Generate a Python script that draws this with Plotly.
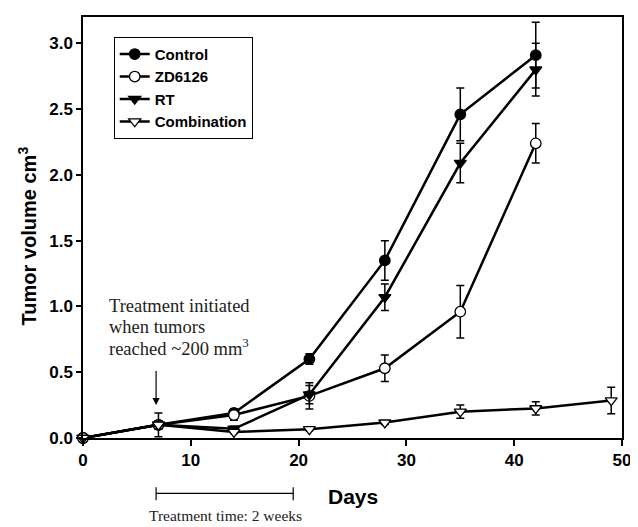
import plotly.graph_objects as go

days = [0, 7, 14, 21, 28, 35, 42]
days_comb = [0, 7, 14, 21, 28, 35, 42, 49]

control = [0.0, 0.10, 0.19, 0.60, 1.35, 2.46, 2.91]
control_err = [0.0, 0.03, 0.03, 0.04, 0.15, 0.20, 0.25]

zd6126 = [0.0, 0.10, 0.175, 0.32, 0.53, 0.96, 2.24]
zd6126_err = [0.0, 0.03, 0.04, 0.10, 0.10, 0.20, 0.15]

rt = [0.0, 0.10, 0.07, 0.33, 1.07, 2.09, 2.80]
rt_err = [0.0, 0.03, 0.02, 0.07, 0.10, 0.15, 0.20]

combination = [0.0, 0.10, 0.045, 0.066, 0.117, 0.20, 0.225, 0.285]
combination_err = [0.0, 0.09, 0.01, 0.01, 0.015, 0.05, 0.05, 0.10]

x_ticks = [0, 10, 20, 30, 40, 50]
y_ticks = [0.0, 0.5, 1.0, 1.5, 2.0, 2.5, 3.0]

note_lines = ["Treatment initiated", "when tumors", "reached ~200 mm<sup>3</sup>"]

fig = go.Figure()

def add(name, x, y, err, symbol, fill):
    fig.add_trace(go.Scatter(
        x=x, y=y, name=name, mode="lines+markers",
        line=dict(color="black", width=2.5),
        marker=dict(symbol=symbol, size=10.5, color=fill,
                    line=dict(color="black", width=1.3)),
        error_y=dict(type="data", array=err, color="black",
                     thickness=1.5, width=4),
        cliponaxis=False,
    ))

add("Control", days, control, control_err, "circle", "black")
add("ZD6126", days, zd6126, zd6126_err, "circle", "white")
add("RT", days, rt, rt_err, "triangle-down", "black")
add("Combination", days_comb, combination, combination_err, "triangle-down", "white")

axis_font = dict(family="Liberation Sans, Arial", size=17, color="black", weight="bold")

fig.update_xaxes(
    range=[0, 50], tickvals=x_ticks, ticktext=[str(v) for v in x_ticks],
    showgrid=False, zeroline=False, showline=True, linecolor="black",
    linewidth=1.5, mirror=True, ticks="outside", ticklen=6, tickwidth=1.5,
    tickcolor="black", tickfont=axis_font,
)
fig.update_yaxes(
    range=[0, 3.2], tickvals=y_ticks, ticktext=[f"{v:.1f}" for v in y_ticks],
    showgrid=False, zeroline=False, showline=True, linecolor="black",
    linewidth=1.5, mirror=True, ticks="outside", ticklen=5, tickwidth=1.5,
    tickcolor="black", tickfont=axis_font,
)

serif = "Liberation Serif, Times New Roman"

fig.add_annotation(
    xref="paper", yref="paper", x=-0.103, y=0.48, xanchor="center", yanchor="middle",
    text="<b>Tumor volume cm<sup>3</sup></b>", textangle=-90, showarrow=False,
    font=dict(family="Liberation Sans, Arial", size=20, color="black"),
)
fig.add_annotation(
    xref="paper", yref="paper", x=0.5, y=-0.14, xanchor="center", yanchor="middle",
    text="<b>Days</b>", showarrow=False,
    font=dict(family="Liberation Sans, Arial", size=21, color="black"),
)
for i, line in enumerate(note_lines):
    fig.add_annotation(
        xref="x", yref="y", x=2.2, y=1.0 - 0.155 * i, xanchor="left", yanchor="middle",
        align="left", text=line, showarrow=False,
        font=dict(family=serif, size=18.5, color="#222"),
    )
fig.add_annotation(
    xref="x", yref="y", x=6.78, y=0.25, ax=0, ay=-44, text=" ",
    showarrow=True, arrowhead=2, arrowsize=1.2, arrowwidth=1.2, arrowcolor="black",
)

bar_y = -0.1315
fig.add_shape(type="line", xref="x", yref="paper", x0=6.78, x1=19.5,
              y0=bar_y, y1=bar_y, line=dict(color="black", width=1.2))
for xv in (6.78, 19.5):
    fig.add_shape(type="line", xref="x", yref="paper", x0=xv, x1=xv,
                  y0=-0.117, y1=-0.148, line=dict(color="black", width=1.2))
fig.add_annotation(
    xref="x", yref="paper", x=13.2, y=-0.209, xanchor="center", yanchor="bottom",
    text="Treatment time: 2 weeks", showarrow=False,
    font=dict(family=serif, size=15.5, color="#222"),
)

# page body has an 8px margin, so the figure is 8px smaller and shifted
fig.update_layout(
    width=630, height=519,
    margin=dict(l=75, r=11, t=7, b=89),
    plot_bgcolor="white", paper_bgcolor="white",
    showlegend=True,
    legend=dict(
        x=0.057, y=0.953, xanchor="left", yanchor="top",
        bordercolor="black", borderwidth=1, bgcolor="white",
        font=dict(family="Liberation Sans, Arial", size=15, color="black", weight="bold"),
        tracegroupgap=0, itemwidth=30,
    ),
)

fig.write_html("out.html")
